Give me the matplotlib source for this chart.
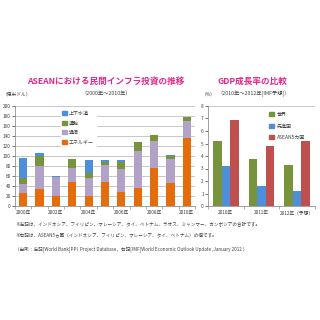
import numpy as np
import matplotlib.pyplot as plt
from matplotlib.patches import Patch

plt.rcParams['font.family'] = ['Noto Sans CJK JP', 'DejaVu Sans']

# left chart: private infrastructure investment (100M USD)
years = np.arange(2000, 2011)
energy = [26, 34, 21, 48, 20, 48, 29, 37, 77, 47, 136]
telecom = [19, 47, 37, 29, 37, 34, 46, 74, 54, 47, 34]
transport = [11, 20, 0, 17, 10, 6, 13, 18, 11, 6, 9]
water = [40, 5, 2, 1, 26, 4, 5, 0, 0, 2, 0]
left_labels = ['上下水道', '運輸', '通信', 'エネルギー']

# right chart: GDP growth (%)
gdp_years = ['2010年', '2011年', '2012年（予想）']
world = [5.2, 3.8, 3.3]
advanced = [3.2, 1.6, 1.2]
asean5 = [6.9, 4.8, 5.2]
right_labels = ['世界', '先進国', 'ASEAN5カ国']

c_energy = '#E46C0A'
c_telecom = '#B3A2C7'
c_transport = '#77933C'
c_water = '#4F8ED8'
c_red = '#C0504D'
pink = '#E4288A'
grid_c = '#C8C8C8'
txt = '#404040'

W = H = 320.0
fig = plt.figure(figsize=(3.2, 3.2), dpi=100)


def px_axes(x0, y0, x1, y1):
    return fig.add_axes([x0 / W, 1 - y1 / H, (x1 - x0) / W, (y1 - y0) / H])


def ftext(x, y, s, **kw):
    fig.text(x / W, 1 - y / H, s, **kw)


# ---- left chart ----
ax = px_axes(15, 106, 195, 206)
x = np.arange(len(years))
bw = 0.5
b = np.zeros(len(years))
for vals, col in [(energy, c_energy), (telecom, c_telecom),
                  (transport, c_transport), (water, c_water)]:
    ax.bar(x, vals, bw, bottom=b, color=col, zorder=3)
    b += np.array(vals)
ax.set_xlim(-0.5, 10.5)
ax.set_ylim(0, 200)
ax.set_yticks(range(0, 201, 20))
ax.yaxis.grid(True, color=grid_c, lw=0.7, zorder=0)
ax.set_xticks(x[::2])
ax.set_xticklabels([f'{y}年' for y in years[::2]])
ax.set_xticks(np.arange(-0.5, 11, 1), minor=True)
ax.tick_params(axis='x', which='major', length=0, labelsize=3.4, colors=txt, pad=3)
ax.tick_params(axis='x', which='minor', length=2, color='#909090', width=0.5)
ax.tick_params(axis='y', length=2, labelsize=3.4, colors=txt, pad=1, width=0.5)
for s in ['top', 'right']:
    ax.spines[s].set_visible(False)
for s in ['left', 'bottom']:
    ax.spines[s].set_color('#909090')
    ax.spines[s].set_linewidth(0.6)
handles = [Patch(color=c) for c in [c_water, c_transport, c_telecom, c_energy]]
leg = ax.legend(handles, left_labels, loc='upper left',
                bbox_to_anchor=(58 / W, 1 - 107 / H), bbox_transform=fig.transFigure,
                fontsize=3.6, frameon=True, edgecolor='white', framealpha=1,
                fancybox=False, handlelength=0.9, handleheight=0.9,
                handletextpad=0.5, labelspacing=0.9, borderpad=0.3)
for t in leg.get_texts():
    t.set_color(txt)
leg.set_zorder(5)

# ---- right chart ----
ax2 = px_axes(208, 106, 315, 206)
gx = np.arange(len(gdp_years))
rb = 0.24
ax2.bar(gx - rb, world, rb, color=c_transport, zorder=3)
ax2.bar(gx, advanced, rb, color=c_water, zorder=3)
ax2.bar(gx + rb, asean5, rb, color=c_red, zorder=3)
ax2.set_xlim(-0.5, 2.5)
ax2.set_ylim(0, 8)
ax2.set_yticks(range(0, 9))
ax2.axhline(8, color=grid_c, lw=0.7, zorder=0)
ax2.set_xticks(gx)
ax2.set_xticklabels(gdp_years)
ax2.set_xticks([-0.5, 0.5, 1.5, 2.5], minor=True)
ax2.tick_params(axis='x', which='major', length=0, labelsize=3.4, colors=txt, pad=3)
ax2.tick_params(axis='x', which='minor', length=2, color='#909090', width=0.5)
ax2.tick_params(axis='y', length=2, labelsize=3.4, colors=txt, pad=1, width=0.5)
for s in ['top', 'right']:
    ax2.spines[s].set_visible(False)
for s in ['left', 'bottom']:
    ax2.spines[s].set_color('#909090')
    ax2.spines[s].set_linewidth(0.6)
handles2 = [Patch(color=c) for c in [c_transport, c_water, c_red]]
leg2 = ax2.legend(handles2, right_labels, loc='upper left',
                  bbox_to_anchor=(265 / W, 1 - 108 / H), bbox_transform=fig.transFigure,
                  fontsize=3.6, frameon=False, handlelength=0.9, handleheight=0.9,
                  handletextpad=0.6, labelspacing=1.3, borderpad=0.3)
for t in leg2.get_texts():
    t.set_color(txt)

# ---- titles and notes ----
ftext(106, 81, 'ASEANにおける民間インフラ投資の推移', color=pink, fontsize=6.2,
      fontweight='bold', ha='center', va='center')
ftext(106, 94, '（2000年～2010年）', color=txt, fontsize=3.8, ha='center', va='center')
ftext(3, 94, '（億米ドル）', color=txt, fontsize=3.4, ha='left', va='center')
ftext(252, 81, 'GDP成長率の比較', color=pink, fontsize=6.2,
      fontweight='bold', ha='center', va='center')
ftext(254, 94, '（2010年～2012年[IMF予想]）', color=txt, fontsize=3.8, ha='center', va='center')
ftext(202, 94, '（%）', color=txt, fontsize=3.4, ha='left', va='center')

ftext(15, 224, '※左記は、インドネシア、フィリピン、マレーシア、タイ、ベトナム、ラオス、ミャンマー、カンボジアの合計です。',
      color=txt, fontsize=3.3, ha='left', va='center')
ftext(15, 235, '※右記は、ASEAN5ヵ国（インドネシア、フィリピン、マレーシア、タイ、ベトナム）の値です。',
      color=txt, fontsize=3.3, ha='left', va='center')
ftext(15, 249, '（出所：左記[World Bank]PPI  Project Database，右記[IMF]World Economic Outlook Update ,January 2012 ）',
      color=txt, fontsize=3.3, ha='left', va='center')

fig.savefig('out.png', dpi=100, facecolor='white')
